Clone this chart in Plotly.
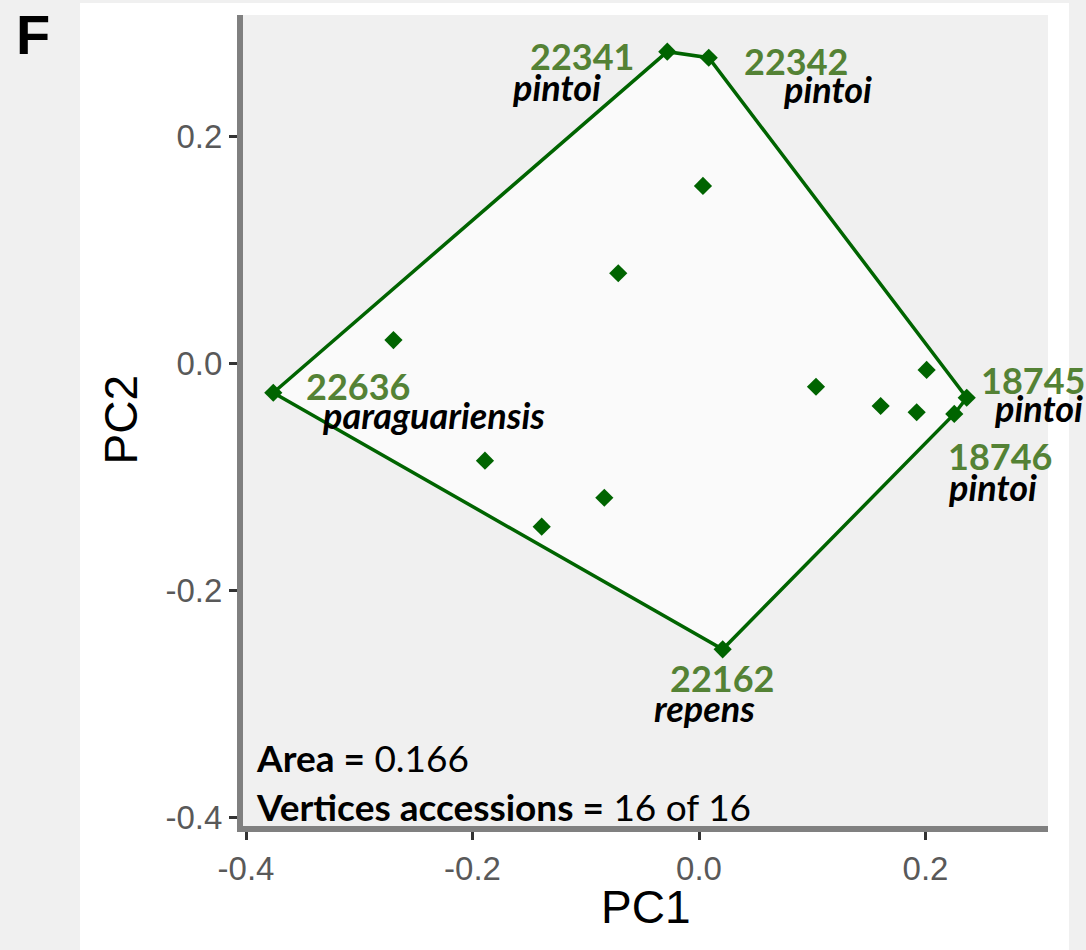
import plotly.graph_objects as go

# ---------------- data ----------------
pc1 = [-0.0280, 0.0086, 0.2364, 0.2254, 0.0209, -0.3759,
       0.0035, -0.0713, -0.2698, -0.1890, -0.0836, -0.1389,
       0.1033, 0.1604, 0.1922, 0.2010]
pc2 = [0.2750, 0.2697, -0.0302, -0.0445, -0.2521, -0.0258,
       0.1566, 0.0796, 0.0207, -0.0857, -0.1184, -0.1439,
       -0.0205, -0.0375, -0.0430, -0.0057]

# convex hull vertices (indices into pc1/pc2), in drawing order
hull_order = [5, 0, 1, 2, 3, 4]

vertex_index = [0, 1, 5, 2, 3, 4]
vertex_ids = ["22341", "22342", "22636", "18745", "18746", "22162"]
vertex_species = ["pintoi", "pintoi", "paraguariensis", "pintoi", "pintoi", "repens"]

x_ticks = [-0.4, -0.2, 0.0, 0.2]
y_ticks = [-0.4, -0.2, 0.0, 0.2]
x_title = "PC1"
y_title = "PC2"
area_value = "0.166"
vertices_text = "16 of 16"
panel_letter = "F"

# ---------------- styling / placement (pixel offsets) ----------------
id_offsets = [(-85, -4), (87, -3), (85, 7), (66, 18), (46, -42), (-1, -29)]
sp_offsets = [(-111, -35), (119, -31), (160, -22), (72, -10), (38, -73), (-18, -59)]

W, H = 1086, 950
ML, MR, MT, MB = 243, 38, 15, 124
PW, PH = W - ML - MR, H - MT - MB


def px_to_paper_x(px):
    return (px - ML) / PW


def py_to_paper_y(py):
    return (H - MB - py) / PH


GREEN = "darkgreen"
LABEL_GREEN = "#548235"

fig = go.Figure()

hx = [pc1[i] for i in hull_order] + [pc1[hull_order[0]]]
hy = [pc2[i] for i in hull_order] + [pc2[hull_order[0]]]
fig.add_trace(go.Scatter(
    x=hx, y=hy, mode="lines", fill="toself", fillcolor="#fafafa",
    line=dict(color=GREEN, width=3.5), hoverinfo="skip", showlegend=False))

fig.add_trace(go.Scatter(
    x=pc1, y=pc2, mode="markers",
    marker=dict(symbol="diamond", size=14, color=GREEN, line=dict(width=0)),
    showlegend=False))

annotations = []
for k, idx in enumerate(vertex_index):
    annotations.append(dict(
        x=pc1[idx], y=pc2[idx], xref="x", yref="y", text=vertex_ids[k],
        showarrow=False, xanchor="center", yanchor="middle", borderpad=0,
        xshift=id_offsets[k][0], yshift=id_offsets[k][1],
        font=dict(family="Lato", size=36, color=LABEL_GREEN, weight="bold")))
    annotations.append(dict(
        x=pc1[idx], y=pc2[idx], xref="x", yref="y",
        text="<b><i>%s</i></b>" % vertex_species[k],
        showarrow=False, xanchor="center", yanchor="middle", borderpad=0,
        xshift=sp_offsets[k][0], yshift=sp_offsets[k][1],
        font=dict(family="Lato", size=36, color="black")))

annotations += [
    dict(x=px_to_paper_x(254), y=py_to_paper_y(757), xref="paper", yref="paper",
         text="<b>Area =</b> " + area_value, showarrow=False,
         xanchor="left", yanchor="middle",
         font=dict(family="Lato", size=37, color="black")),
    dict(x=px_to_paper_x(254), y=py_to_paper_y(806), xref="paper", yref="paper",
         text="<b>Vertices accessions =</b> " + vertices_text, showarrow=False,
         xanchor="left", yanchor="middle",
         font=dict(family="Lato", size=37, color="black")),
    dict(x=0.5, y=py_to_paper_y(907), xref="paper", yref="paper",
         text=x_title, showarrow=False, xanchor="center", yanchor="middle",
         font=dict(family="Liberation Sans", size=46, color="black")),
    dict(x=px_to_paper_x(120), y=0.5, xref="paper", yref="paper",
         text=y_title, showarrow=False, xanchor="center", yanchor="middle",
         textangle=-90,
         font=dict(family="Liberation Sans", size=46, color="black")),
    dict(x=px_to_paper_x(33), y=py_to_paper_y(34), xref="paper", yref="paper",
         text="<b>%s</b>" % panel_letter, showarrow=False,
         xanchor="center", yanchor="middle",
         font=dict(family="Liberation Sans", size=56, color="black")),
]

shapes = [
    dict(type="rect", xref="paper", yref="paper", layer="below",
         x0=px_to_paper_x(80), x1=px_to_paper_x(1069),
         y0=py_to_paper_y(950), y1=py_to_paper_y(3),
         fillcolor="white", line=dict(width=0)),
    dict(type="rect", xref="paper", yref="paper", layer="below",
         x0=0, x1=1, y0=0, y1=1,
         fillcolor="#f0f0f0", line=dict(width=0)),
]

x_lo = -0.4 - 3 / 1132.5
x_hi = (1048 - 699) / 1132.5
y_hi = (363.5 - 15) / 1133.75
y_lo = -(826 - 363.5) / 1133.75

axis_common = dict(
    showgrid=False, zeroline=False, showline=True, linewidth=6,
    linecolor="#808080", ticks="outside", ticklen=8, tickwidth=2.5,
    tickcolor="#333333",
    tickfont=dict(family="Liberation Sans", size=33, color="#595959"),
)

fig.update_layout(
    width=W, height=H,
    margin=dict(l=ML, r=MR, t=MT, b=MB, autoexpand=False),
    paper_bgcolor="#f0f0f0", plot_bgcolor="rgba(0,0,0,0)",
    xaxis=dict(range=[x_lo, x_hi], tickvals=x_ticks,
               ticktext=["%.1f" % v for v in x_ticks], **axis_common),
    yaxis=dict(range=[y_lo, y_hi], tickvals=y_ticks,
               ticktext=["%.1f" % v for v in y_ticks], **axis_common),
    annotations=annotations, shapes=shapes, showlegend=False,
)

fig.write_html("out.html")
